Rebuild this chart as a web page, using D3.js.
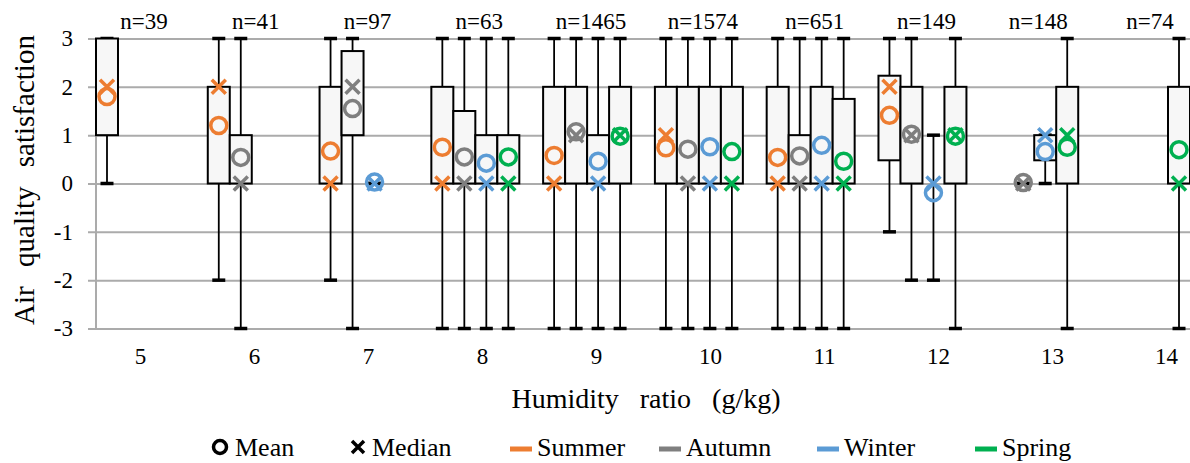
<!DOCTYPE html>
<html>
<head>
<meta charset="utf-8">
<script src="https://cdn.jsdelivr.net/npm/d3@7"></script>
<style>
  body { margin: 0; background: #fff; }
</style>
</head>
<body>
<div id="chart-area"></div>
<script>
// humidity ratio bins and sample counts
var categories = ['5', '6', '7', '8', '9', '10', '11', '12', '13', '14'];
var nLabels = ['n=39', 'n=41', 'n=97', 'n=63', 'n=1465', 'n=1574', 'n=651', 'n=149', 'n=148', 'n=74'];
var seasons = ['Summer', 'Autumn', 'Winter', 'Spring'];
var yTicks = [-3, -2, -1, 0, 1, 2, 3];

// per bin: [low whisker, q1, median, q3, high whisker, mean]
var summer = [
    [0, 1, 2, 3, 3, 1.8],
    [-2, 0, 2, 2, 3, 1.2],
    [-2, 0, 0, 2, 3, 0.67],
    [-3, 0, 0, 2, 3, 0.75],
    [-3, 0, 0, 2, 3, 0.58],
    [-3, 0, 1, 2, 3, 0.74],
    [-3, 0, 0, 2, 3, 0.54],
    [-1, 0.48, 2, 2.23, 3, 1.41],
    null,
    null
];
var autumn = [
    null,
    [-3, 0, 0, 1, 3, 0.54],
    [-3, 1, 2, 2.74, 3, 1.55],
    [-3, 0, 0, 1.5, 3, 0.55],
    [-3, 0, 1, 2, 3, 1.07],
    [-3, 0, 0, 2, 3, 0.71],
    [-3, 0, 0, 1, 3, 0.57],
    [-2, 0, 1, 2, 3, 1.02],
    [0, 0, 0, 0, 0, 0.02],
    null
];
var winter = [
    null,
    null,
    [0, 0, 0, 0, 0, 0.03],
    [-3, 0, 0, 1, 3, 0.42],
    [-3, 0, 0, 1, 3, 0.46],
    [-3, 0, 0, 2, 3, 0.76],
    [-3, 0, 0, 2, 3, 0.79],
    [-2, 0, 0, 0, 1, -0.19],
    [0, 0.48, 1, 1, 1, 0.66],
    null
];
var spring = [
    null,
    null,
    null,
    [-3, 0, 0, 1, 3, 0.55],
    [-3, 0, 1, 2, 3, 0.98],
    [-3, 0, 0, 2, 3, 0.66],
    [-3, 0, 0, 1.75, 3, 0.46],
    [-3, 0, 1, 2, 3, 0.98],
    [-3, 0, 1, 2, 3, 0.75],
    [-3, 0, 0, 2, 3, 0.7]
];

var colors = {Summer: '#ED7D31', Autumn: '#7F7F7F', Winter: '#5B9BD5', Spring: '#00B050'};
var seriesData = {Summer: summer, Autumn: autumn, Winter: winter, Spring: spring};

var width = 1190;
var height = 463;
var plotLeft = 96, plotRight = 1190, plotTop = 38.5, plotBottom = 328.5;
var serif = 'Liberation Serif';

var svg = d3.select('#chart-area')
    .append('svg')
        .attr('width', width)
        .attr('height', height)
        .style('font-family', serif);

var x = d3.scaleBand()
    .domain(categories)
    .range([plotLeft, plotRight])
    .paddingInner(0.213)
    .paddingOuter(0);

var xs = d3.scaleBand()
    .domain(seasons)
    .range([0, x.bandwidth()]);

// category labels sit slightly apart from the box groups, as in the source
var xLabel = d3.scalePoint()
    .domain(categories)
    .range([140, 1166]);

var y = d3.scaleLinear()
    .domain([-3, 3])
    .range([plotBottom, plotTop]);

// gridlines
var grid = svg.append('g')
    .attr('transform', 'translate(88, 0)')
    .call(d3.axisRight(y).tickValues(yTicks).tickSize(plotRight - 88).tickFormat(''));
grid.select('.domain').remove();
grid.selectAll('line').attr('stroke', '#ABABAB').attr('stroke-width', 2);

svg.append('line')
    .attr('x1', plotLeft).attr('x2', plotLeft)
    .attr('y1', plotTop).attr('y2', plotBottom)
    .attr('stroke', '#ABABAB').attr('stroke-width', 2);

// y axis labels
var yAxis = svg.append('g')
    .attr('transform', 'translate(' + plotLeft + ', 0)')
    .call(d3.axisLeft(y).tickValues(yTicks).tickSize(0).tickPadding(23)
        .tickFormat(function(d) { return String(d); }));
yAxis.attr('font-family', null).attr('font-size', 23);
yAxis.select('.domain').remove();
yAxis.selectAll('text').attr('fill', '#000');

// x axis labels
var xAxis = svg.append('g')
    .attr('transform', 'translate(0, ' + plotBottom + ')')
    .call(d3.axisBottom(xLabel).tickSize(0).tickPadding(19));
xAxis.attr('font-family', null).attr('font-size', 23);
xAxis.select('.domain').remove();
xAxis.selectAll('text').attr('fill', '#000');

// boxes
var capW = 13;
seasons.forEach(function(s) {
    var g = svg.append('g').attr('class', 'series ' + s);
    seriesData[s].forEach(function(d, i) {
        if (!d) return;
        var cx = x(categories[i]) + xs(s) + xs.bandwidth() / 2;
        var x0 = x(categories[i]) + xs(s);
        var lo = d[0], q1 = d[1], q3 = d[3], hi = d[4];

        // whiskers
        g.append('line')
            .attr('x1', cx).attr('x2', cx)
            .attr('y1', y(q3)).attr('y2', y(hi))
            .attr('stroke', '#000').attr('stroke-width', 1.8);
        g.append('line')
            .attr('x1', cx).attr('x2', cx)
            .attr('y1', y(q1)).attr('y2', y(lo))
            .attr('stroke', '#000').attr('stroke-width', 1.8);
        [lo, hi].forEach(function(v) {
            g.append('line')
                .attr('x1', cx - capW / 2).attr('x2', cx + capW / 2)
                .attr('y1', y(v)).attr('y2', y(v))
                .attr('stroke', '#000').attr('stroke-width', 3.5);
        });

        // box
        g.append('rect')
            .attr('x', x0)
            .attr('y', y(q3))
            .attr('width', xs.bandwidth())
            .attr('height', Math.max(0, y(q1) - y(q3)))
            .attr('fill', '#F7F7F7')
            .attr('stroke', '#000')
            .attr('stroke-width', 2);
    });
});

// markers on top
seasons.forEach(function(s) {
    var g = svg.append('g').attr('class', 'markers ' + s);
    seriesData[s].forEach(function(d, i) {
        if (!d) return;
        var cx = x(categories[i]) + xs(s) + xs.bandwidth() / 2;
        var med = d[2], mean = d[5];
        var k = 7;
        g.append('path')
            .attr('d', 'M' + (cx - k) + ',' + (y(med) - k) + 'L' + (cx + k) + ',' + (y(med) + k) +
                       'M' + (cx - k) + ',' + (y(med) + k) + 'L' + (cx + k) + ',' + (y(med) - k))
            .attr('stroke', colors[s])
            .attr('stroke-width', 3.5)
            .attr('fill', 'none');
        g.append('circle')
            .attr('cx', cx)
            .attr('cy', y(mean))
            .attr('r', 8)
            .attr('fill', 'none')
            .attr('stroke', colors[s])
            .attr('stroke-width', 3.5);
    });
});

// n labels
svg.selectAll('.nlabel')
    .data(nLabels)
    .enter()
    .append('text')
    .attr('class', 'nlabel')
    .attr('x', function(d, i) { return x(categories[i]) + x.bandwidth() / 2 + 4; })
    .attr('y', 29)
    .attr('font-size', '23px')
    .attr('text-anchor', 'middle')
    .text(function(d) { return d; });

// axis titles
svg.append('text')
    .attr('x', 646)
    .attr('y', 408)
    .attr('font-size', '28px')
    .attr('text-anchor', 'middle')
    .attr('word-spacing', '14px')
    .text('Humidity ratio (g/kg)');

svg.append('text')
    .attr('x', -180)
    .attr('y', 34)
    .attr('font-size', '29px')
    .attr('text-anchor', 'middle')
    .attr('word-spacing', '12px')
    .attr('transform', 'rotate(-90)')
    .text('Air quality satisfaction');

// legend
var legY = 447;
var legFont = '26px';
var leg = svg.append('g').attr('class', 'legend');
leg.append('circle')
    .attr('cx', 220).attr('cy', legY).attr('r', 6.5)
    .attr('fill', 'none').attr('stroke', '#000').attr('stroke-width', 3.5);
leg.append('text').attr('x', 235).attr('y', legY + 9).attr('font-size', legFont).text('Mean');
leg.append('path')
    .attr('d', 'M352,441L364,453M352,453L364,441')
    .attr('stroke', '#000').attr('stroke-width', 3.5);
leg.append('text').attr('x', 372).attr('y', legY + 9).attr('font-size', legFont).text('Median');

var legX = {Summer: 510, Autumn: 659, Winter: 817, Spring: 975};
seasons.forEach(function(s) {
    leg.append('line')
        .attr('x1', legX[s]).attr('x2', legX[s] + 22)
        .attr('y1', legY + 2).attr('y2', legY + 2)
        .attr('stroke', colors[s]).attr('stroke-width', 5);
    leg.append('text')
        .attr('x', legX[s] + 27)
        .attr('y', legY + 9)
        .attr('font-size', legFont)
        .text(s);
});
</script>
</body>
</html>
